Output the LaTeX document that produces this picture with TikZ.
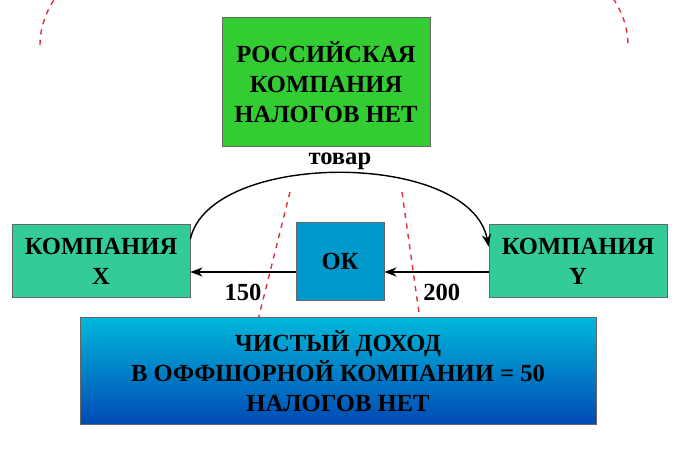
\documentclass[tikz,border=0pt]{standalone}
\usepackage{fontspec}
\setmainfont{Liberation Serif}
\usetikzlibrary{positioning,arrows.meta}
\definecolor{topgreen}{HTML}{33CC33}
\definecolor{sidegreen}{HTML}{33CC99}
\definecolor{okblue}{HTML}{0099CC}
\definecolor{cutred}{HTML}{E03040}
\tikzset{
  firm/.style={draw=black!60, fill=sidegreen, minimum width=3.56cm, minimum height=1.46cm, align=center, font=\bfseries\fontsize{14}{17}\selectfont},
  flow/.style={-{Stealth[length=7pt]}, thick},
  cut/.style={cutred, dashed, thick},
}
\begin{document}
\begin{tikzpicture}[x=0.02cm,y=-0.02cm]
  \useasboundingbox (0,0) rectangle (680,453);
  % border of the country
  \draw [cut] (40,45) arc [start angle=180, end angle=360, x radius=294, y radius=148];
  \draw [cut] (290,192) -- (258,320);
  \draw [cut] (402,192) -- (420,320);

  \node [firm, fill=topgreen, minimum width=4.16cm, minimum height=2.58cm] (ru) at (326,82) {РОССИЙСКАЯ\\КОМПАНИЯ\\НАЛОГОВ НЕТ};
  \node [firm] (x) at (101,261) {КОМПАНИЯ\\X};
  \node [firm] (y) at (578,261) {КОМПАНИЯ\\Y};
  \node [firm, fill=okblue, minimum width=1.76cm, minimum height=1.56cm] (ok) at (340,261) {ОК};
  \node [firm, top color=okblue!70!cyan, bottom color=okblue!60!blue!80!black, minimum width=10.32cm, minimum height=2.14cm] (net) at (338,371) {ЧИСТЫЙ ДОХОД\\В ОФФШОРНОЙ КОМПАНИИ = 50\\НАЛОГОВ НЕТ};

  % goods and money
  \draw [flow] ([yshift=-0.3cm]x.north east) .. controls (210,150) and (470,150) .. ([yshift=-0.45cm]y.north west)
    node [pos=0.5, above=-2pt, font=\bfseries\fontsize{14}{17}\selectfont] {товар};
  \draw [flow] ([yshift=-0.22cm]ok.west) -- ([yshift=-0.22cm]x.east -| x.east)
    node [pos=0.5, below=3pt, font=\bfseries\fontsize{14}{17}\selectfont] {150};
  \draw [flow] ([yshift=-0.22cm]y.west) -- ([yshift=-0.22cm]ok.east)
    node [pos=0.45, below=3pt, font=\bfseries\fontsize{14}{17}\selectfont] {200};
\end{tikzpicture}
\end{document}
